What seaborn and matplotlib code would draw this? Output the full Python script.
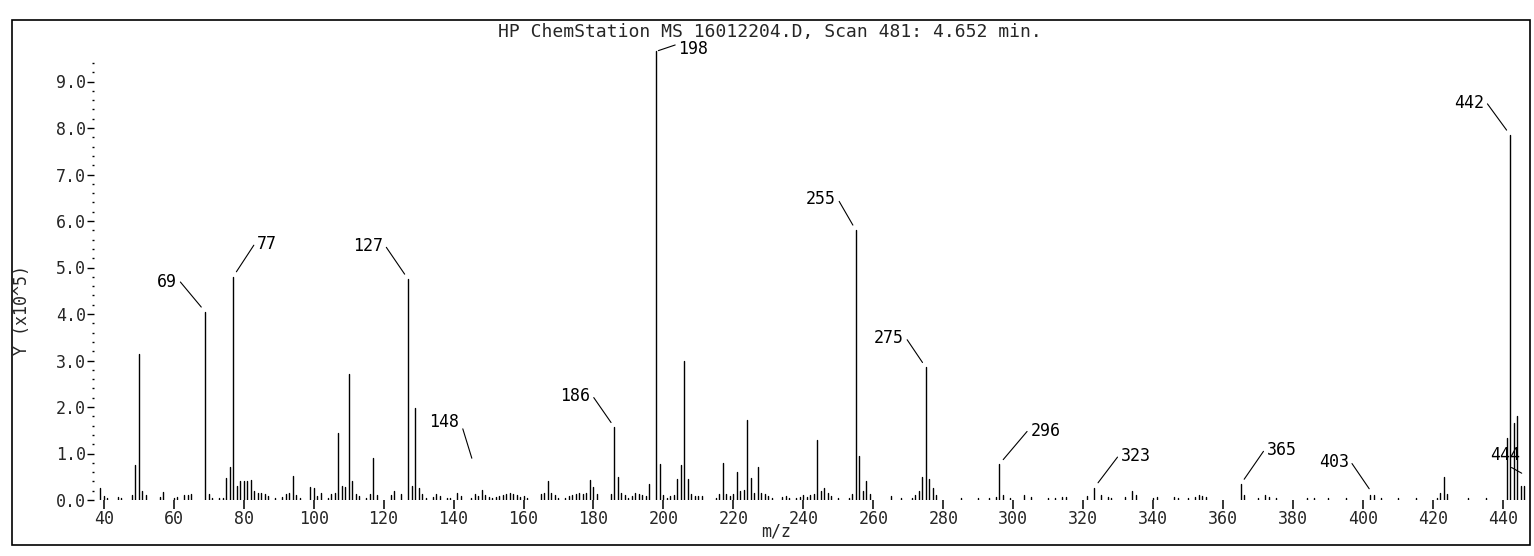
import matplotlib
matplotlib.use("Agg")
import matplotlib.pyplot as plt
from matplotlib.patches import Rectangle
from matplotlib.ticker import FixedLocator, FormatStrFormatter
import numpy as np
import pandas as pd
import seaborn as sns

sns.set_theme(style="white")
plt.rcParams["font.family"] = ["DejaVu Sans Mono", "DejaVu Sans"]

# ---- data (intensity in units of 1e5) ----
mz = [39, 40, 41, 44, 45, 48, 49, 50, 51, 52, 56, 57, 60, 61, 63, 64, 65,
      69, 70, 71, 73, 74, 75, 76, 77, 78, 79, 80, 81, 82, 83, 84, 85, 86, 87,
      89, 91, 92, 93, 94, 95, 96, 99, 100, 101, 102, 104, 105, 106, 107, 108,
      109, 110, 111, 112, 113, 115, 116, 117, 118, 122, 123, 125, 127, 128,
      129, 130, 131, 132, 134, 135, 136, 138, 139, 141, 142, 145, 146, 147,
      148, 149, 150, 151, 152, 153, 154, 155, 156, 157, 158, 159, 160, 161,
      165, 166, 167, 168, 169, 170, 172, 173, 174, 175, 176, 177, 178, 179,
      180, 181, 185, 186, 187, 188, 189, 190, 191, 192, 193, 194, 195, 196,
      198, 199, 200, 201, 202, 203, 204, 205, 206, 207, 208, 209, 210, 211,
      215, 216, 217, 218, 219, 220, 221, 222, 223, 224, 225, 226, 227, 228,
      229, 230, 231, 234, 235, 236, 238, 239, 240, 241, 242, 243, 244, 245,
      246, 247, 248, 250, 253, 254, 255, 256, 257, 258, 259, 265, 268, 271,
      272, 273, 274, 275, 276, 277, 278, 285, 290, 293, 295, 296, 297, 299,
      303, 305, 310, 312, 314, 315, 321, 323, 325, 327, 328, 332, 334, 335,
      340, 341, 346, 347, 350, 352, 353, 354, 355, 365, 366, 370, 372, 373,
      375, 384, 386, 390, 395, 402, 403, 405, 410, 415, 421, 422, 423, 424,
      430, 435, 441, 442, 443, 444, 445, 446]
intensity = [0.25, 0.08, 0.05, 0.07, 0.05, 0.10, 0.75, 3.15, 0.20, 0.10, 0.07,
             0.17, 0.05, 0.07, 0.10, 0.10, 0.12,
             4.05, 0.12, 0.05, 0.05, 0.05, 0.48, 0.72, 4.80, 0.30, 0.40, 0.40,
             0.40, 0.42, 0.20, 0.15, 0.15, 0.12, 0.08,
             0.05, 0.07, 0.12, 0.15, 0.52, 0.10, 0.05, 0.28, 0.25, 0.08, 0.15,
             0.05, 0.12, 0.15, 1.45, 0.30,
             0.28, 2.70, 0.40, 0.12, 0.08, 0.05, 0.12, 0.90, 0.10, 0.10, 0.20,
             0.12, 4.75, 0.30,
             1.98, 0.25, 0.12, 0.05, 0.07, 0.12, 0.08, 0.05, 0.05, 0.15, 0.08,
             0.05, 0.12, 0.08,
             0.22, 0.10, 0.07, 0.05, 0.07, 0.08, 0.10, 0.12, 0.15, 0.12, 0.10,
             0.07, 0.08, 0.05,
             0.12, 0.15, 0.40, 0.15, 0.10, 0.05, 0.05, 0.08, 0.10, 0.12, 0.15,
             0.12, 0.15, 0.42,
             0.28, 0.12, 0.12, 1.56, 0.50, 0.15, 0.10, 0.05, 0.08, 0.15, 0.12,
             0.10, 0.08, 0.34,
             9.65, 0.77, 0.10, 0.05, 0.08, 0.10, 0.45, 0.75, 2.98, 0.45, 0.12,
             0.08, 0.08, 0.08,
             0.05, 0.12, 0.80, 0.12, 0.08, 0.12, 0.60, 0.20, 0.22, 1.73, 0.48,
             0.15, 0.70, 0.15,
             0.12, 0.08, 0.05, 0.07, 0.08, 0.05, 0.05, 0.07, 0.10, 0.07, 0.10,
             0.12, 1.30, 0.20,
             0.25, 0.15, 0.08, 0.05, 0.05, 0.12, 5.80, 0.95, 0.20, 0.40, 0.12,
             0.08, 0.05, 0.05,
             0.10, 0.20, 0.50, 2.85, 0.45, 0.25, 0.10, 0.05, 0.05, 0.05, 0.07,
             0.77, 0.10, 0.05,
             0.10, 0.07, 0.05, 0.05, 0.07, 0.07, 0.08, 0.25, 0.10, 0.07, 0.05,
             0.07, 0.20, 0.10,
             0.05, 0.07, 0.07, 0.05, 0.05, 0.07, 0.10, 0.08, 0.07, 0.34, 0.10,
             0.05, 0.10, 0.07,
             0.05, 0.05, 0.05, 0.05, 0.05, 0.10, 0.10, 0.05, 0.05, 0.05, 0.05,
             0.15, 0.50, 0.12,
             0.05, 0.05, 1.33, 7.85, 1.65, 1.80, 0.30, 0.30]

label_mz = [69, 77, 127, 148, 186, 198, 255, 275, 296, 323, 365, 403, 442, 444]

x_ticks = list(range(40, 441, 20))
y_ticks = list(range(0, 10))

title = "HP ChemStation MS 16012204.D, Scan 481: 4.652 min."

# label placement: text offset (px), leader start on text, leader gap (px),
# and where the leader lands relative to the peak (mz shift, fraction of height)
label_style = {
    69: ((-38, 30), (1.0, 0.7), 6, (0, 1.0)),
    77: ((34, 33), (0.0, 0.7), 6, (0, 1.0)),
    127: ((-40, 33), (1.0, 0.7), 6, (0, 1.0)),
    148: ((-37, 68), (1.0, 0.7), 33, (0, 1.0)),
    186: ((-39, 31), (1.0, 0.7), 6, (0, 1.0)),
    198: ((37, 2), (0.0, 0.8), 2, (0, 1.0)),
    255: ((-35, 31), (1.0, 0.7), 6, (0, 1.0)),
    275: ((-37, 29), (1.0, 0.7), 6, (0, 1.0)),
    296: ((46, 33), (0.0, 0.7), 6, (0, 1.0)),
    323: ((42, 32), (0.0, 0.7), 7, (0, 1.0)),
    365: ((41, 34), (0.0, 0.7), 6, (0, 1.0)),
    403: ((-40, 33), (1.0, 0.7), 8, (0, 1.0)),
    442: ((-41, 32), (1.0, 0.7), 6, (0, 1.0)),
    444: ((-17, 18), (0.0, 0.5), 0, (1.3, 0.32)),
}

# ---- long-form table for the stems ----
rows = []
for i, (m, h) in enumerate(zip(mz, intensity)):
    rows.append({"peak": i, "mz": m, "y": 0.0})
    rows.append({"peak": i, "mz": m, "y": h})
df = pd.DataFrame(rows)

W, H = 1534, 556
fig = plt.figure(figsize=(W / 100, H / 100), dpi=100)
ax = fig.add_axes([93.5 / W, 56 / H, 1434.5 / W, 465 / H])

sns.lineplot(data=df, x="mz", y="y", units="peak", estimator=None, sort=False,
             color="black", linewidth=1.0, ax=ax, legend=False)

ax.set_xlim(37.1, 447.1)
ax.set_ylim(0, 10.0)
sns.despine(ax=ax, left=True, bottom=True)

ax.set_xticks(x_ticks)
ax.set_yticks(y_ticks)
ax.yaxis.set_major_formatter(FormatStrFormatter("%.1f"))
ax.yaxis.set_minor_locator(FixedLocator(np.arange(0, 9.5, 0.2)))
ax.tick_params(axis="x", which="major", bottom=True, direction="out",
               length=6.5, width=1.1, pad=0.5, labelsize=12, color="black")
ax.tick_params(axis="y", which="major", left=True, direction="out",
               length=5, width=1.0, pad=0.5, labelsize=12, color="black")
ax.tick_params(axis="y", which="minor", left=True, direction="out",
               length=1.8, width=1.0, color="black")
ax.set_xlabel("")
ax.set_ylabel("")

peak_top = dict(zip(mz, intensity))
for m in label_mz:
    (dx, dy), rel, gap, (shift, frac) = label_style[m]
    ax.annotate(str(m), xy=(m + shift, peak_top[m] * frac), xytext=(dx, dy),
                textcoords="offset pixels", ha="center", va="center",
                fontsize=12, color="black",
                arrowprops=dict(arrowstyle="-", color="black", lw=0.8,
                                relpos=rel, shrinkA=0, shrinkB=gap * 0.72))

fig.text(0.502, 1 - 32 / H, title, ha="center", va="center", fontsize=13)
fig.text(776 / W, 1 - 532 / H, "m/z", ha="center", va="center", fontsize=12)
fig.text(22 / W, 1 - 310 / H, "Y (x10^5)", ha="center", va="center",
         rotation=90, fontsize=12)

fig.add_artist(Rectangle((12 / W, 1 - 545 / H), 1518 / W, 525 / H,
                         transform=fig.transFigure, fill=False,
                         edgecolor="black", linewidth=1.2))

fig.savefig("out.png", dpi=100, facecolor="white")
